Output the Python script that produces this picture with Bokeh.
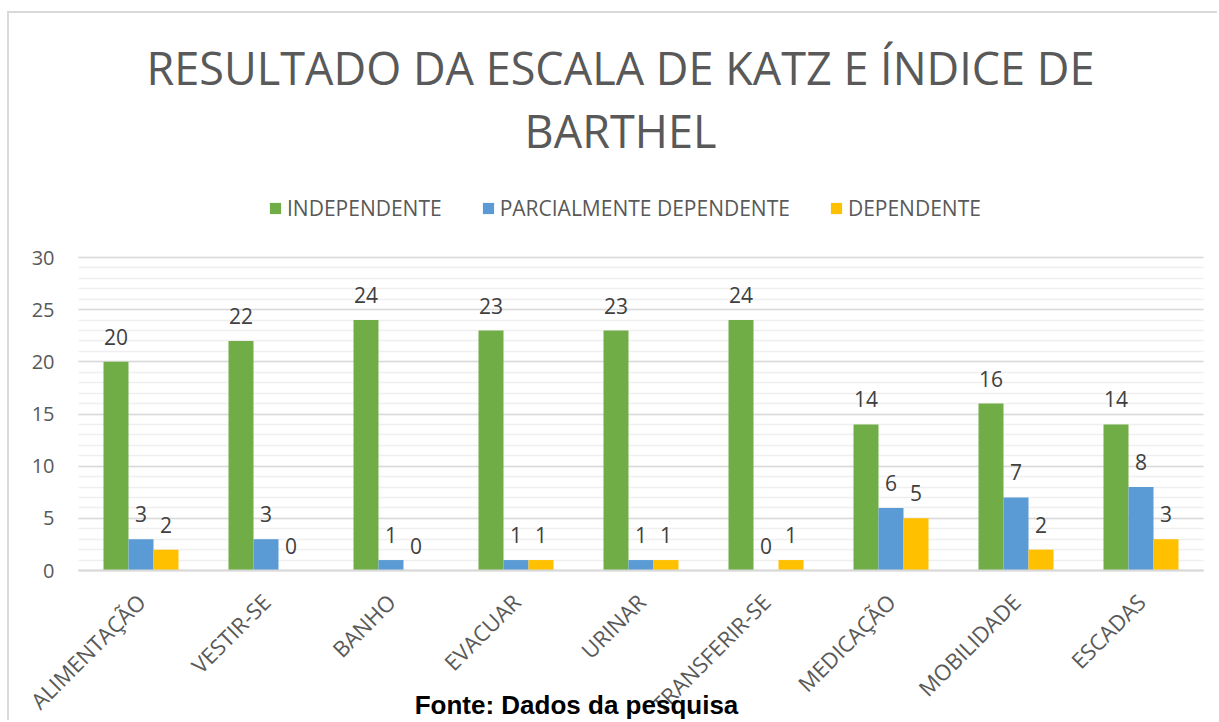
import math
from bokeh.plotting import figure
from bokeh.models import (ColumnDataSource, Range1d, Legend, LegendItem,
                          SingleIntervalTicker, FixedTicker, Label)
from bokeh.transform import dodge
from bokeh.core.properties import value
from bokeh.embed import file_html
from bokeh.resources import INLINE

categories = ["ALIMENTAÇÃO", "VESTIR-SE", "BANHO", "EVACUAR", "URINAR",
              "TRANSFERIR-SE", "MEDICAÇÃO", "MOBILIDADE", "ESCADAS"]
independente = [20, 22, 24, 23, 23, 24, 14, 16, 14]
parcial = [3, 3, 1, 1, 1, 0, 6, 7, 8]
dependente = [2, 0, 0, 1, 1, 1, 5, 2, 3]
series_names = ["INDEPENDENTE", "PARCIALMENTE DEPENDENTE", "DEPENDENTE"]
colors = ["#70AD47", "#5B9BD5", "#FFC000"]
title_lines = ["RESULTADO DA ESCALA DE KATZ E ÍNDICE DE", "BARTHEL"]
source_note = "Fonte: Dados da pesquisa"
y_max = 30

FONT = "Open Sans"
GRAY = "#595959"

xs = list(range(len(categories)))
src = ColumnDataSource(dict(x=xs, cat=categories, ind=independente, par=parcial, dep=dependente,
                            ind_t=[str(v) for v in independente],
                            par_t=[str(v) for v in parcial],
                            dep_t=[str(v) for v in dependente]))

# The frame covers the whole canvas so that title, legend, note and rotated
# labels are never clipped; axes are pinned and bounded to the plotting area.
CANVAS_W, CANVAS_H = 1210, 709
PX_Y = 313.0 / y_max
ZERO_FROM_TOP = 557
PX_X = 125.0
LEFT_PAD, RIGHT_PAD = 69, 16
n = len(categories)
x_start = -0.5 - LEFT_PAD / PX_X
x_end = n - 0.5 + RIGHT_PAD / PX_X
y_start = -(CANVAS_H - ZERO_FROM_TOP) / PX_Y
y_end = ZERO_FROM_TOP / PX_Y

p = figure(width=CANVAS_W, height=CANVAS_H,
           x_range=Range1d(x_start, x_end), y_range=Range1d(y_start, y_end),
           output_backend="svg", toolbar_location=None,
           min_border_left=0, min_border_right=0, min_border_top=0, min_border_bottom=0,
           background_fill_color="white", border_fill_color="white",
           styles={"margin-left": "7px", "margin-top": "11px",
                   "border-left": "2px solid #D9D9D9", "border-top": "2px solid #D9D9D9"})
p.title = None
p.outline_line_color = None
p.xgrid.grid_line_color = None

p.yaxis.ticker = SingleIntervalTicker(interval=5, num_minor_ticks=5)
p.yaxis.bounds = (0, y_max)
p.yaxis.fixed_location = -0.5
p.ygrid.bounds = (0, y_max)
p.ygrid.cross_bounds = (-0.5, n - 0.5)
p.ygrid.grid_line_color = "#D9D9D9"
p.ygrid.grid_line_width = 1.3
p.ygrid.minor_grid_line_color = "#EFEFEF"
p.ygrid.minor_grid_line_width = 1.3

p.yaxis.axis_line_color = None
p.yaxis.major_tick_line_color = None
p.yaxis.minor_tick_line_color = None
p.yaxis.major_label_text_font = FONT
p.yaxis.major_label_text_font_size = "20px"
p.yaxis.major_label_text_color = GRAY
p.yaxis.major_label_standoff = 18

p.xaxis.fixed_location = 0
p.xaxis.bounds = (-0.5, n - 0.5)
p.xaxis.ticker = FixedTicker(ticks=xs)
p.xaxis.major_label_overrides = {i: c for i, c in zip(xs, categories)}
p.xaxis.axis_line_color = "#D9D9D9"
p.xaxis.axis_line_width = 2
p.xaxis.major_tick_line_color = None
p.xaxis.minor_tick_line_color = None
p.xaxis.major_label_orientation = math.pi / 4
p.xaxis.major_label_text_font = FONT
p.xaxis.major_label_text_font_size = "22px"
p.xaxis.major_label_text_color = GRAY
p.xaxis.major_label_standoff = 21

fields = ["ind", "par", "dep"]
offsets = [-0.2, 0.0, 0.2]
renderers = []
for f, off, c in zip(fields, offsets, colors):
    r = p.vbar(x=dodge("x", off), top=f, width=0.2, source=src,
               fill_color=c, line_color=None)
    renderers.append(r)
    p.text(x=dodge("x", off), y=f, text=f + "_t", source=src,
           text_align="center", text_baseline="alphabetic", y_offset=-25,
           text_font=value(FONT), text_font_size="21px", text_color="#404040")

legend = Legend(items=[LegendItem(label=nm, renderers=[r]) for nm, r in zip(series_names, renderers)],
                orientation="horizontal", location=(259, 500),
                label_text_font=FONT, label_text_font_size="21px", label_text_color=GRAY,
                glyph_width=14, glyph_height=14, label_standoff=5, spacing=39,
                padding=0, margin=0, border_line_alpha=0, background_fill_alpha=0)
p.add_layout(legend, "center")

for txt, yb in zip(title_lines, [655, 592]):
    p.add_layout(Label(x=611, y=yb, x_units="screen", y_units="screen", text=txt,
                       text_align="center", text_baseline="alphabetic",
                       text_font=FONT, text_font_size="45px", text_color=GRAY))

p.add_layout(Label(x=567, y=18, x_units="screen", y_units="screen", text=source_note,
                   text_align="center", text_baseline="alphabetic",
                   text_font="Liberation Sans", text_font_style="bold",
                   text_font_size="26px", text_color="black"))

open("out.html", "w").write(file_html(p, INLINE))
